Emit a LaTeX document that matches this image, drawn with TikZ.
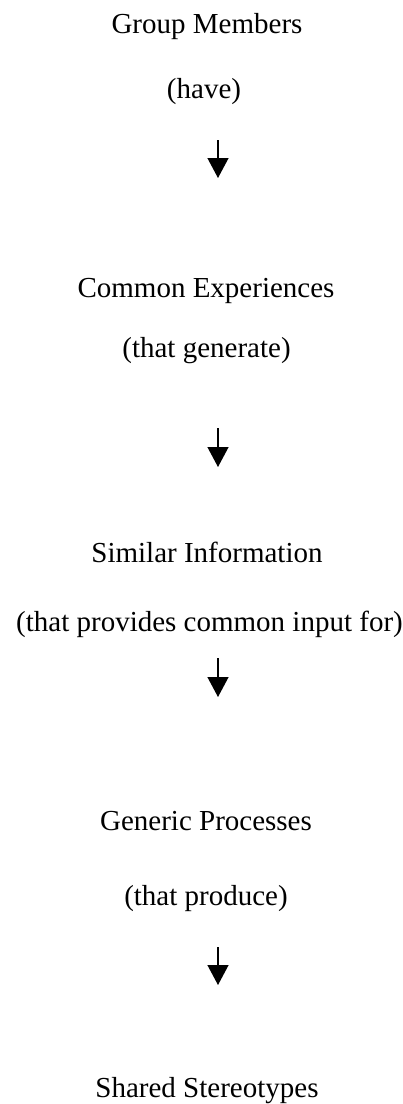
\documentclass[tikz,border=0pt]{standalone}
\usepackage{fontspec}
\setmainfont{Liberation Serif}
\usetikzlibrary{arrows.meta}
\begin{document}
\begin{tikzpicture}[x=1pt,y=-1pt,
  lbl/.style={anchor=base,inner sep=0pt,font=\fontsize{29}{34}\selectfont},
  flow/.style={line width=1.3pt,-{Triangle[width=21pt,length=20pt]}}]
\useasboundingbox[fill=white] (0,0) rectangle (403,1104);
\node[lbl] (gm) at (207,33) {Group Members};
\node[lbl] (have) at (204,98) {(have)};
\node[lbl] (ce) at (206,297) {Common Experiences};
\node[lbl] (gen) at (206.5,357) {(that generate)};
\node[lbl] (si) at (207,562) {Similar Information};
\node[lbl] (prov) at (209.5,631) {(that provides common input for)};
\node[lbl] (gp) at (206,830) {Generic Processes};
\node[lbl] (prod) at (206,905) {(that produce)};
\node[lbl] (ss) at (207,1097) {Shared Stereotypes};
\coordinate (a1s) at (218,140); \coordinate (a1e) at (218,178);
\coordinate (a2s) at (218,428); \coordinate (a2e) at (218,467);
\coordinate (a3s) at (218,658); \coordinate (a3e) at (218,697);
\coordinate (a4s) at (218,947); \coordinate (a4e) at (218,985);
\draw[flow] (a1s) -- (a1e);
\draw[flow] (a2s) -- (a2e);
\draw[flow] (a3s) -- (a3e);
\draw[flow] (a4s) -- (a4e);
\end{tikzpicture}
\end{document}
